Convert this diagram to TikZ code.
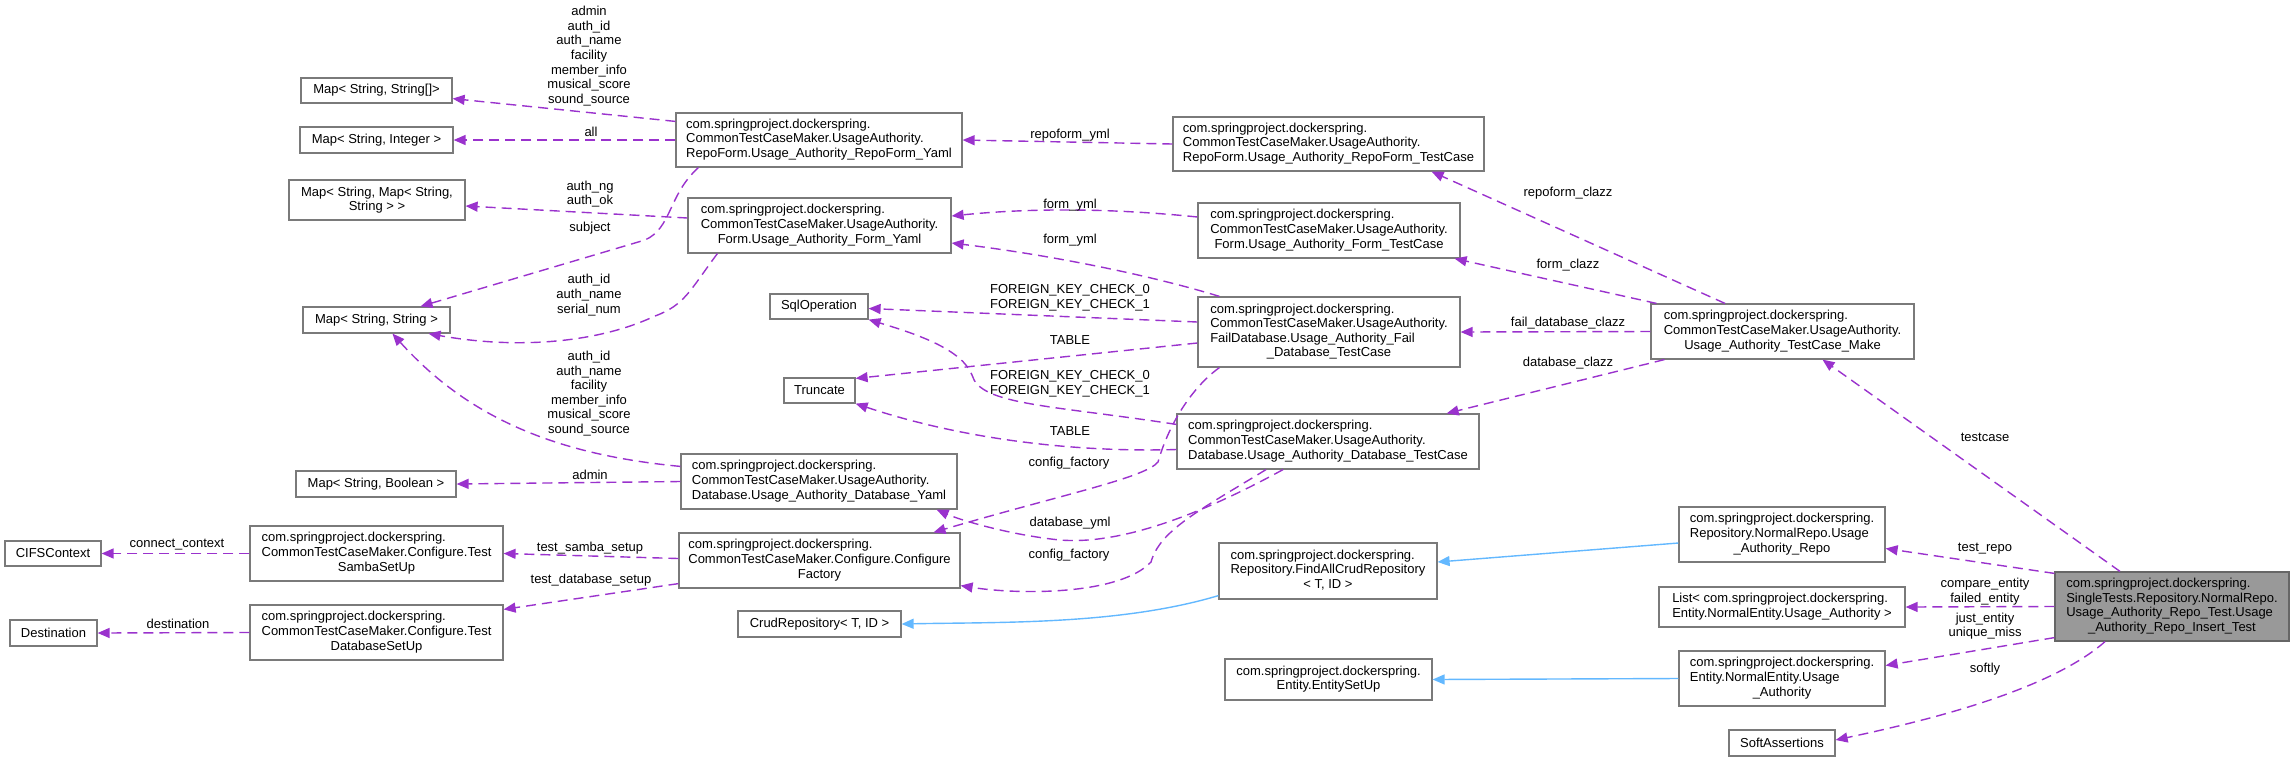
\documentclass[tikz,border=0pt]{standalone}
\usepackage{fontspec}
\setmainfont{Liberation Sans}
\usepackage{tikz}
\usetikzlibrary{arrows.meta,calc}
\definecolor{edgeuse}  {HTML}{9A32CD}
\definecolor{edgeinh}  {HTML}{63B8FF}
\definecolor{boxline}  {HTML}{7A7A7A}
\definecolor{focusline}{HTML}{666666}
\definecolor{focusfill}{HTML}{999999}
% class name: left lines, last line centred
\newcommand{\clsname}[2]{\begin{tabular}{@{}l@{}}#1\\\multicolumn{1}{@{}c@{}}{#2}\end{tabular}}
\tikzset{
  >={Triangle[length=6pt,width=5pt]},
  every node/.style={font=\fontsize{6.5}{7.3}\selectfont},
  % --- nodes
  box/.style   = {draw=boxline, line width=0.6pt, fill=white, inner sep=0pt, align=center},
  sz/.style 2 args = {minimum width=#1pt, minimum height=#2pt},
  focus/.style = {box, draw=focusline, fill=focusfill},
  lbl/.style   = {inner sep=0pt, align=center},
  % --- edges
  eu/.style    = {->, draw=edgeuse, line width=0.7pt, dash pattern=on 5pt off 3pt},
  ei/.style    = {->, draw=edgeinh, line width=0.7pt},
}
\begin{document}
\begin{tikzpicture}[x=0.5pt,y=-0.5pt]
  \useasboundingbox (0,0) rectangle (2295,761);

  % --- left column
  \node[box, sz={75.5}{12.5}] (mapSA) at (376.5,90.5) {Map< String, String[]>};
  \node[box, sz={76.5}{13}]   (mapSI) at (376.5,140) {Map< String, Integer >};
  \node[box, sz={88}{20}]     (mapSM) at (377,200) {Map< String, Map< String,\\String > >};
  \node[box, sz={73.5}{13}]   (mapSS) at (376.5,320) {Map< String, String >};
  \node[box, sz={80}{13}]     (mapSB) at (376,484) {Map< String, Boolean >};
  \node[box, sz={48}{12.5}]   (cifs) at (53,553.5) {CIFSContext};
  \node[box, sz={43.5}{13}]   (dest) at (53.5,633) {Destination};
  \node[box, sz={126.5}{27.5}] (samba) at (376.5,553.5)
    {\clsname{com.springproject.dockerspring.\\CommonTestCaseMaker.Configure.Test}{SambaSetUp}};
  \node[box, sz={126.5}{27.5}] (dbsetup) at (376.5,632.5)
    {\clsname{com.springproject.dockerspring.\\CommonTestCaseMaker.Configure.Test}{DatabaseSetUp}};

  % --- yaml / helpers
  \node[box, sz={143}{27}] (repoYaml) at (819,140)
    {\clsname{com.springproject.dockerspring.\\CommonTestCaseMaker.UsageAuthority.}{RepoForm.Usage\_Authority\_RepoForm\_Yaml}};
  \node[box, sz={131.5}{27.5}] (formYaml) at (819.5,225.5)
    {\clsname{com.springproject.dockerspring.\\CommonTestCaseMaker.UsageAuthority.}{Form.Usage\_Authority\_Form\_Yaml}};
  \node[box, sz={49}{12.5}]   (sqlop) at (819,306.5) {SqlOperation};
  \node[box, sz={35.5}{12.5}] (truncate) at (819.5,390.5) {Truncate};
  \node[box, sz={138}{27.5}] (dbYaml) at (819,481.5)
    {\clsname{com.springproject.dockerspring.\\CommonTestCaseMaker.UsageAuthority.}{Database.Usage\_Authority\_Database\_Yaml}};
  \node[box, sz={140.5}{27.5}] (cfgFactory) at (819.5,560.5)
    {\clsname{com.springproject.dockerspring.\\CommonTestCaseMaker.Configure.Configure}{Factory}};
  \node[box, sz={81.5}{13}] (crud) at (819.5,624) {CrudRepository< T, ID >};

  % --- test cases
  \node[box, sz={155.5}{27}] (repoTC) at (1328.5,144)
    {\clsname{com.springproject.dockerspring.\\CommonTestCaseMaker.UsageAuthority.}{RepoForm.Usage\_Authority\_RepoForm\_TestCase}};
  \node[box, sz={131}{27.5}] (formTC) at (1329,230.5)
    {\clsname{com.springproject.dockerspring.\\CommonTestCaseMaker.UsageAuthority.}{Form.Usage\_Authority\_Form\_TestCase}};
  \node[box, sz={131}{35}] (failTC) at (1329,332)
    {\clsname{com.springproject.dockerspring.\\CommonTestCaseMaker.UsageAuthority.\\FailDatabase.Usage\_Authority\_Fail}{\_Database\_TestCase}};
  \node[box, sz={151}{27.5}] (dbTC) at (1328,441.5)
    {\clsname{com.springproject.dockerspring.\\CommonTestCaseMaker.UsageAuthority.}{Database.Usage\_Authority\_Database\_TestCase}};
  \node[box, sz={109}{28}] (findAll) at (1328,571)
    {\clsname{com.springproject.dockerspring.\\Repository.FindAllCrudRepository}{< T, ID >}};
  \node[box, sz={103.5}{20.5}] (entSetUp) at (1328.5,679.5)
    {\clsname{com.springproject.dockerspring.}{Entity.EntitySetUp}};

  % --- right side
  \node[box, sz={131.5}{27.5}] (make) at (1782.5,331.5)
    {\clsname{com.springproject.dockerspring.\\CommonTestCaseMaker.UsageAuthority.}{Usage\_Authority\_TestCase\_Make}};
  \node[box, sz={103}{27.5}] (uaRepo) at (1782,534.5)
    {\clsname{com.springproject.dockerspring.\\Repository.NormalRepo.Usage}{\_Authority\_Repo}};
  \node[box, sz={123}{20}] (listUA) at (1782,607)
    {\clsname{List< com.springproject.dockerspring.}{Entity.NormalEntity.Usage\_Authority >}};
  \node[box, sz={103}{27.5}] (uaEnt) at (1782,678.5)
    {\clsname{com.springproject.dockerspring.\\Entity.NormalEntity.Usage}{\_Authority}};
  \node[box, sz={53}{13}] (soft) at (1782,743) {SoftAssertions};
  \node[focus, sz={117}{34.5}] (main) at (2172,606.5)
    {\clsname{com.springproject.dockerspring.\\SingleTests.Repository.NormalRepo.\\Usage\_Authority\_Repo\_Test.Usage}{\_Authority\_Repo\_Insert\_Test}};

  % --- usage edges
  \draw[eu] ([yshift=-4.5pt]repoYaml.north west) -- ([yshift=2.5pt]mapSA.south east);
  \draw[eu] (repoYaml.west) -- (mapSI.east);
  \draw[eu] ([xshift=11.5pt]repoYaml.south west) .. controls (668,195) and (672,228) .. (645,240)
    -- ([xshift=22pt]mapSS.north);
  \draw[eu] ([yshift=3.75pt]formYaml.west) -- ([yshift=-3pt]mapSM.east);
  \draw[eu] ([xshift=15pt]formYaml.south west) .. controls (690,290) and (685,305) .. (655,316)
    .. controls (600,342) and (520,350) .. ([xshift=26pt]mapSS.south);
  \draw[eu] ([yshift=-6.5pt]dbYaml.north west) .. controls (560,455) and (470,420) .. ([xshift=8pt]mapSS.south);
  \draw[eu] (dbYaml.west) -- (mapSB.east);
  \draw[eu] ([yshift=1pt]cfgFactory.west) -- (samba.east);
  \draw[eu] ([yshift=2.5pt]cfgFactory.south west) -- ([yshift=-2.5pt]dbsetup.north east);
  \draw[eu] (samba.west) -- (cifs.east);
  \draw[eu] (dbsetup.west) -- (dest.east);
  \draw[eu] (repoTC.west) -- (repoYaml.east);
  \draw[eu] ([yshift=6.75pt]formTC.west) .. controls (1110,208) and (1030,208) .. ([yshift=4.75pt]formYaml.east);
  \draw[eu] ([xshift=11pt]failTC.north west) .. controls (1150,275) and (1050,255) .. ([yshift=-8.75pt]formYaml.east);
  \draw[eu] ([yshift=5pt]failTC.west) -- ([yshift=-1pt]sqlop.east);
  \draw[eu] ([yshift=-5.5pt]failTC.west) -- ([yshift=-0.5pt]truncate.north east);
  \draw[eu] ([xshift=11pt]failTC.south west) .. controls (1195,385) and (1170,420) .. (1158,462)
    .. controls (1145,478) and (1060,495) .. ([xshift=57pt]cfgFactory.north);
  \draw[eu] ([yshift=-5.5pt]dbTC.north west) .. controls (1050,405) and (980,405) .. (972,375)
    .. controls (962,350) and (920,335) .. (sqlop.south east);
  \draw[eu] ([yshift=-4pt]dbTC.west) .. controls (1100,452) and (980,445) .. (truncate.south east);
  \draw[eu] ([xshift=-22.5pt]dbTC.south) .. controls (1200,515) and (1120,545) .. (1060,540)
    .. controls (1010,535) and (960,520) .. ([xshift=-10.5pt]dbYaml.south east);
  \draw[eu] ([xshift=-31pt]dbTC.south) .. controls (1200,510) and (1160,530) .. (1151,562)
    .. controls (1120,595) and (1020,595) .. ([yshift=1.5pt]cfgFactory.south east);
  \draw[eu] ([xshift=-28.75pt]make.north) -- ([xshift=-26.5pt]repoTC.south east);
  \draw[eu] ([xshift=3pt]make.north west) -- ([xshift=-3pt]formTC.south east);
  \draw[eu] (make.west) -- (failTC.east);
  \draw[eu] ([xshift=7pt]make.south west) -- ([xshift=-16.5pt]dbTC.north east);
  \draw[eu] ([xshift=-26pt]main.north) -- ([xshift=20pt]make.south);
  \draw[eu] ([yshift=-1pt]main.north west) -- ([yshift=-7pt]uaRepo.east);
  \draw[eu] (main.west) -- (listUA.east);
  \draw[eu] ([yshift=2pt]main.south west) -- ([yshift=6.5pt]uaEnt.east);
  \draw[eu] ([xshift=-33.5pt]main.south) .. controls (2050,690) and (1930,720) .. ([yshift=1.5pt]soft.east);

  % --- inheritance edges
  \draw[ei] ([yshift=2pt]findAll.south west) .. controls (1120,625) and (1000,622) .. (crud.east);
  \draw[ei] ([yshift=-4.25pt]uaRepo.west) -- ([yshift=4.5pt]findAll.east);
  \draw[ei] (uaEnt.west) -- (entSetUp.east);

  % --- edge labels
  \node[lbl] (lSA) at (589,56) {admin\\auth\_id\\auth\_name\\facility\\member\_info\\musical\_score\\sound\_source};
  \node[lbl] (lSI) at (591,132) {all};
  \node[lbl] (lSM) at (590,194) {auth\_ng\\auth\_ok};
  \node[lbl] (lSS1) at (590,228) {subject};
  \node[lbl] (lSS2) at (589,295) {auth\_id\\auth\_name\\serial\_num};
  \node[lbl] (lSS3) at (589,393.5) {auth\_id\\auth\_name\\facility\\member\_info\\musical\_score\\sound\_source};
  \node[lbl] (lSB) at (590,475) {admin};
  \node[lbl] (lSamba) at (590,548) {test\_samba\_setup};
  \node[lbl] (lDbSet) at (591,580) {test\_database\_setup};
  \node[lbl] (lCifs) at (177,545) {connect\_context};
  \node[lbl] (lDest) at (178,624) {destination};
  \node[lbl] (lRepoYml) at (1070,135) {repoform\_yml};
  \node[lbl] (lFormYml1) at (1070,205) {form\_yml};
  \node[lbl] (lFormYml2) at (1070,240) {form\_yml};
  \node[lbl] (lSql1) at (1070,297.5) {FOREIGN\_KEY\_CHECK\_0\\FOREIGN\_KEY\_CHECK\_1};
  \node[lbl] (lTab1) at (1070,340) {TABLE};
  \node[lbl] (lSql2) at (1070,384) {FOREIGN\_KEY\_CHECK\_0\\FOREIGN\_KEY\_CHECK\_1};
  \node[lbl] (lTab2) at (1070,431) {TABLE};
  \node[lbl] (lCfg1) at (1069,463) {config\_factory};
  \node[lbl] (lDbYml) at (1070,523) {database\_yml};
  \node[lbl] (lCfg2) at (1069,555) {config\_factory};
  \node[lbl] (lRepoClazz) at (1568,193) {repoform\_clazz};
  \node[lbl] (lFormClazz) at (1568,265) {form\_clazz};
  \node[lbl] (lFailClazz) at (1568,323) {fail\_database\_clazz};
  \node[lbl] (lDbClazz) at (1568,363) {database\_clazz};
  \node[lbl] (lTestcase) at (1985,437) {testcase};
  \node[lbl] (lTestRepo) at (1985,549) {test\_repo};
  \node[lbl] (lCompare) at (1985,591.5) {compare\_entity\\failed\_entity};
  \node[lbl] (lJust) at (1985,626) {just\_entity\\unique\_miss};
  \node[lbl] (lSoftly) at (1985,669) {softly};
\end{tikzpicture}
\end{document}
